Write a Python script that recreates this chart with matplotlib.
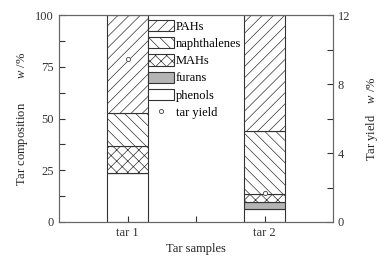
import matplotlib
matplotlib.use("Agg")
import matplotlib.pyplot as plt
from matplotlib.patches import Patch
from matplotlib.lines import Line2D
from matplotlib.ticker import MultipleLocator, FixedLocator

plt.rcParams['font.family'] = ['Liberation Serif', 'DejaVu Serif']
plt.rcParams['mathtext.fontset'] = 'custom'
plt.rcParams['mathtext.it'] = 'Liberation Serif:italic'
plt.rcParams['mathtext.rm'] = 'Liberation Serif'
plt.rcParams['hatch.linewidth'] = 0.5

samples = ['tar 1', 'tar 2']
components = ['phenols', 'furans', 'MAHs', 'naphthalenes', 'PAHs']
phenols = [23.5, 6.1]
furans = [0.0, 3.4]
mahs = [13.2, 3.9]
naphthalenes = [15.8, 30.6]
pahs = [47.5, 56.0]
tar_yield = [9.45, 1.7]

styles = {
    'phenols': dict(facecolor='white', hatch=None),
    'furans': dict(facecolor='#b4b4b4', hatch=None),
    'MAHs': dict(facecolor='white', hatch='xxx'),
    'naphthalenes': dict(facecolor='white', hatch='\\\\\\'),
    'PAHs': dict(facecolor='white', hatch='///'),
}
values = {'phenols': phenols, 'furans': furans, 'MAHs': mahs,
          'naphthalenes': naphthalenes, 'PAHs': pahs}

FS = 9
fig = plt.figure(figsize=(3.9, 2.64), dpi=100)
ax = fig.add_axes([59/390, 1-222/264, 274/390, 207/264])
x = [1, 2]
edge = '#333333'
bottom = [0.0, 0.0]
for comp in components:
    vals = values[comp]
    st = styles[comp]
    ax.bar(x, vals, width=0.30, bottom=bottom, facecolor=st['facecolor'],
           hatch=st['hatch'], edgecolor=edge, linewidth=0.8)
    bottom = [b + v for b, v in zip(bottom, vals)]

ax.set_xlim(0.5, 2.5)
ax.set_ylim(0, 100)
ax.set_xticks(x)
ax.set_xticklabels(samples)
ax.xaxis.set_minor_locator(FixedLocator([1.5]))
ax.yaxis.set_major_locator(MultipleLocator(25))
ax.yaxis.set_minor_locator(MultipleLocator(12.5))
ax.tick_params(axis='both', which='both', direction='in', labelsize=FS, colors='#333333')
ax.tick_params(which='major', length=4, width=0.8)
ax.tick_params(which='minor', length=4, width=0.8)
ax.tick_params(axis='y', right=False)
ax.tick_params(axis='x', top=False)
ax.set_xlabel('Tar samples', fontsize=FS, color='#222222', labelpad=3)
ax.set_ylabel('Tar composition        $\\it{w}$ /%', fontsize=FS, color='#222222', labelpad=4)

ax2 = ax.twinx()
ax2.set_ylim(0, 12)
ax2.yaxis.set_major_locator(MultipleLocator(4))
ax2.yaxis.set_minor_locator(MultipleLocator(2))
ax2.tick_params(axis='y', which='both', direction='in', length=4, width=0.8,
                labelsize=FS, colors='#333333')
ax2.plot(x, tar_yield, linestyle='none', marker='o', markersize=3,
         markerfacecolor='white', markeredgecolor='#444444', markeredgewidth=0.6)
ax2.set_ylabel('Tar yield    $\\it{w}$ /%', fontsize=FS, color='#222222', labelpad=10)

for a in (ax, ax2):
    for s in a.spines.values():
        s.set_color('#666666')
        s.set_linewidth(0.8)

handles = [Patch(facecolor=styles[c]['facecolor'], hatch=styles[c]['hatch'],
                 edgecolor=edge, linewidth=0.8, label=c)
           for c in ['PAHs', 'naphthalenes', 'MAHs', 'furans', 'phenols']]
handles.append(Line2D([], [], linestyle='none', marker='o', markersize=3,
                      markerfacecolor='white', markeredgecolor='#444444',
                      markeredgewidth=0.6, label='tar yield'))
leg = ax2.legend(handles=handles, loc='upper left', bbox_to_anchor=(0.325, 0.975),
                 frameon=False, fontsize=FS, handlelength=2.1, handleheight=1.0,
                 labelspacing=0.34, handletextpad=0.12, borderpad=0.0,
                 borderaxespad=0.0)

fig.savefig('out.png', dpi=100)
